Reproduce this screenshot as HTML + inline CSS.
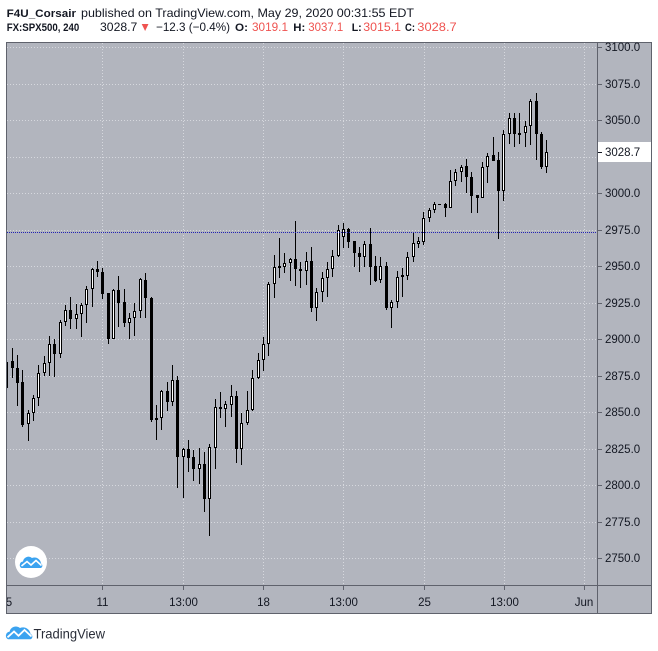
<!DOCTYPE html>
<html><head><meta charset="utf-8"><style>
html,body{margin:0;padding:0;background:#fff;}
svg{display:block;}
text{font-family:"Liberation Sans",sans-serif;}
</style></head><body>
<svg width="658" height="651" viewBox="0 0 658 651" xmlns="http://www.w3.org/2000/svg">
<defs><clipPath id="pc"><rect x="7" y="43" width="590" height="542"/></clipPath>
<clipPath id="xc"><rect x="7" y="586" width="590" height="27"/></clipPath></defs>
<rect width="658" height="651" fill="#fff"/>
<rect x="6" y="42" width="646" height="572" fill="#b2b5be"/>
<g stroke="#d6d8de" stroke-width="1" stroke-dasharray="1 2" fill="none">
<path d="M7 47.5H597M7 84.5H597M7 120.5H597M7 157.5H597M7 193.5H597M7 230.5H597M7 266.5H597M7 303.5H597M7 339.5H597M7 376.5H597M7 412.5H597M7 449.5H597M7 485.5H597M7 522.5H597M7 558.5H597"/>
<path d="M102.5 43V585M183.5 43V585M263.5 43V585M343.5 43V585M424.5 43V585M504.5 43V585M584.5 43V585"/>
</g>
<g clip-path="url(#pc)" fill="none">
<path stroke="#000" stroke-width="1" d="M6.5 362V388M12.5 348V378M17.5 355V406M22.5 370V427M28.5 410V441M33.5 395V421M38.5 365V406M44.5 356V376M49.5 336V376M54.5 339V377M60.5 320V358M65.5 305V326M70.5 297V329M76.5 304V329M81.5 303V337M86.5 286V323M92.5 268V307M97.5 261V277M102.5 268V299M108.5 293V344M113.5 289V339M118.5 276V327M124.5 289V327M129.5 313V339M134.5 303V336M140.5 278V318M145.5 273V318M151.5 297V422M156.5 405V440M161.5 390V430M167.5 382V411M172.5 365V406M177.5 376V488M183.5 448V498M188.5 440V472M193.5 450V481M199.5 448V484M204.5 452V512M209.5 444V536M215.5 399V469M220.5 392V418M225.5 401V427M231.5 385V417M236.5 391V463M241.5 413V465M247.5 391V425M252.5 370V411M258.5 353V379M263.5 337V371M268.5 282V356M274.5 255V298M279.5 238V278M284.5 253V273M290.5 258V281M295.5 221V286M300.5 262V288M306.5 252V285M311.5 247V312M316.5 288V321M322.5 272V302M327.5 262V297M332.5 250V277M338.5 225V257M343.5 223V248M348.5 228V248M354.5 241V267M359.5 247V272M364.5 241V267M370.5 228V285M375.5 256V282M380.5 257V283M386.5 262V310M391.5 300V328M397.5 271V308M402.5 268V297M407.5 252V280M413.5 233V262M418.5 237V248M423.5 212V245M429.5 208V222M434.5 202V213M439.5 204V205M445.5 203V217M450.5 170V208M455.5 169V186M461.5 165V182M466.5 159V193M471.5 172V213M477.5 195V213M482.5 162V198M487.5 153V183M493.5 137V160M498.5 152V239M503.5 130V201M509.5 113V144M514.5 113V147M519.5 113V144M525.5 121V147M530.5 99V145M536.5 93V160M541.5 132V169M546.5 140V173"/>
<path stroke="#000" stroke-width="3" d="M6.5 362V388M12.5 361V368M17.5 368V383M22.5 382V425M28.5 413V424M33.5 398V413M38.5 373V398M44.5 363V373M49.5 344V363M54.5 344V354M60.5 322V354M65.5 310V322M70.5 310V319M76.5 314V319M81.5 305V314M86.5 289V305M92.5 269V289M97.5 269V272M102.5 272V294M108.5 293V339M113.5 290V339M118.5 290V303M124.5 302V323M129.5 318V323M134.5 311V318M140.5 279V311M145.5 280V298M151.5 298V420M156.5 418V420M161.5 391V418M167.5 391V402M172.5 380V402M177.5 380V457M183.5 449V457M188.5 449V458M193.5 457V469M199.5 464V469M204.5 464V499M209.5 447V499M215.5 407V448M220.5 407V409M225.5 404V409M231.5 396V405M236.5 396V449M241.5 423V449M247.5 410V423M252.5 378V410M258.5 360V378M263.5 344V360M268.5 284V344M274.5 267V284M279.5 266V268M284.5 263V267M290.5 259V263M295.5 259V269M300.5 269V271M306.5 261V271M311.5 261V308M316.5 292V308M322.5 278V292M327.5 269V278M332.5 256V269M338.5 230V256M343.5 229V237M348.5 229V242M354.5 241V253M359.5 253V257M364.5 244V257M370.5 244V267M375.5 266V281M380.5 266V280M386.5 266V308M391.5 302V308M397.5 277V302M402.5 275V277M407.5 257V276M413.5 243V257M418.5 241V244M423.5 218V242M429.5 210V218M434.5 204V210M439.5 204V205M445.5 204V208M450.5 181V208M455.5 172V181M461.5 167V172M466.5 166V177M471.5 177V196M477.5 195V198M482.5 167V198M487.5 156V167M493.5 155V161M498.5 160V191M503.5 134V191M509.5 118V134M514.5 118V134M519.5 133V135M525.5 126V133M530.5 101V126M536.5 101V134M541.5 134V167M546.5 152V167"/>
<path stroke="#fff" stroke-width="1" d="M28.5 414V423M33.5 399V412M38.5 374V397M44.5 364V372M49.5 345V362M60.5 323V353M65.5 311V321M76.5 315V318M81.5 306V313M86.5 290V304M92.5 270V288M113.5 291V338M129.5 319V322M134.5 312V317M140.5 280V310M161.5 392V417M172.5 381V401M183.5 450V456M199.5 465V468M209.5 448V498M215.5 408V447M225.5 405V408M231.5 397V404M241.5 424V448M247.5 411V422M252.5 379V409M258.5 361V377M263.5 345V359M268.5 285V343M274.5 268V283M284.5 264V266M290.5 260V262M306.5 262V270M316.5 293V307M322.5 279V291M327.5 270V277M332.5 257V268M338.5 231V255M343.5 230V236M364.5 245V256M380.5 267V279M391.5 303V307M397.5 278V301M407.5 258V275M413.5 244V256M418.5 242V243M423.5 219V241M429.5 211V217M434.5 205V209M450.5 182V207M455.5 173V180M461.5 168V171M482.5 168V197M487.5 157V166M503.5 135V190M509.5 119V133M525.5 127V132M530.5 102V125M546.5 153V166"/>
<path d="M7 232.5H597" stroke="#2323b4" stroke-width="1" stroke-dasharray="1 1"/>
</g>
<path d="M6.5 42.5H651.5V613.5H6.5ZM597.5 42.5V613.5M6.5 585.5H651.5" stroke="#5f626c" stroke-width="1" fill="none"/>
<path d="M598 47.5H602M598 84.5H602M598 120.5H602M598 193.5H602M598 230.5H602M598 266.5H602M598 303.5H602M598 339.5H602M598 376.5H602M598 412.5H602M598 449.5H602M598 485.5H602M598 522.5H602M598 558.5H602" stroke="#5f626c" stroke-width="1"/>
<path d="M102.5 586V590M183.5 586V590M263.5 586V590M343.5 586V590M424.5 586V590M504.5 586V590M584.5 586V590" stroke="#5f626c" stroke-width="1"/>
<g font-size="11.5" fill="#131722">
<text x="605" y="51">3100.0</text>
<text x="605" y="88">3075.0</text>
<text x="605" y="124">3050.0</text>
<text x="605" y="197">3000.0</text>
<text x="605" y="234">2975.0</text>
<text x="605" y="270">2950.0</text>
<text x="605" y="307">2925.0</text>
<text x="605" y="343">2900.0</text>
<text x="605" y="380">2875.0</text>
<text x="605" y="416">2850.0</text>
<text x="605" y="453">2825.0</text>
<text x="605" y="489">2800.0</text>
<text x="605" y="526">2775.0</text>
<text x="605" y="562">2750.0</text>
</g>
<rect x="598" y="142" width="53" height="20" fill="#fff"/>
<path d="M598 152.5H602" stroke="#131722" stroke-width="1"/>
<text x="605" y="156" font-size="11.5" fill="#131722">3028.7</text>
<g font-size="11.5" fill="#131722" text-anchor="middle">
<text x="9" y="606" clip-path="url(#xc)">5</text>
<text x="102.5" y="606">11</text>
<text x="183.5" y="606">13:00</text>
<text x="263.5" y="606">18</text>
<text x="343.5" y="606">13:00</text>
<text x="424.5" y="606">25</text>
<text x="504.5" y="606">13:00</text>
<text x="584" y="606">Jun</text>
</g>
<circle cx="31" cy="562" r="16" fill="#fff"/>
<g transform="translate(20,555)">
<path d="M1.5,13 A3.5,3.5 0 0 1 3,6.5 A5.5,5.5 0 0 1 12,3 A6.5,6.5 0 0 1 21,8.5 A2.5,2.5 0 0 1 21,13 Z" fill="#3ba3f0"/>
<polyline points="1.5,11 7,6.5 11,10 16,5.5 21.5,10.5" fill="none" stroke="#fff" stroke-width="1.6"/>
</g>
<g font-size="12" fill="#131722">
<text x="6.7" y="17" font-weight="bold" font-size="11" textLength="69.3" lengthAdjust="spacingAndGlyphs">F4U_Corsair</text>
<text x="81" y="17" textLength="333" lengthAdjust="spacingAndGlyphs">published on TradingView.com, May 29, 2020 00:31:55 EDT</text>
<text x="6.7" y="31" font-weight="bold" font-size="11" textLength="72.6" lengthAdjust="spacingAndGlyphs">FX:SPX500, 240</text>
<text x="100" y="31" textLength="37.3" lengthAdjust="spacingAndGlyphs">3028.7</text>
<text x="156" y="31" textLength="74" lengthAdjust="spacingAndGlyphs">−12.3 (−0.4%)</text>
<text x="235" y="31" font-weight="bold" font-size="11" textLength="13" lengthAdjust="spacingAndGlyphs">O:</text>
<text x="252" y="31" fill="#ef5350" textLength="36" lengthAdjust="spacingAndGlyphs">3019.1</text>
<text x="293.3" y="31" font-weight="bold" font-size="11" textLength="12" lengthAdjust="spacingAndGlyphs">H:</text>
<text x="308.3" y="31" fill="#ef5350" textLength="35" lengthAdjust="spacingAndGlyphs">3037.1</text>
<text x="351.7" y="31" font-weight="bold" font-size="11" textLength="10" lengthAdjust="spacingAndGlyphs">L:</text>
<text x="363.3" y="31" fill="#ef5350" textLength="37.7" lengthAdjust="spacingAndGlyphs">3015.1</text>
<text x="405" y="31" font-weight="bold" font-size="11" textLength="10" lengthAdjust="spacingAndGlyphs">C:</text>
<text x="417.3" y="31" fill="#ef5350" textLength="39.4" lengthAdjust="spacingAndGlyphs">3028.7</text>
</g>
<polygon points="141.7,24 148.5,24 145.1,31" fill="#ef5350"/>
<g transform="translate(6,625)">
<path d="M2,14.3 A4,4 0 0 1 3.5,6.8 A6.5,6.5 0 0 1 14,3 A7.5,7.5 0 0 1 24.5,9 A2.8,2.8 0 0 1 24.5,14.3 Z" fill="#3ba3f0"/>
<polyline points="1.5,12.3 8,6.5 12.5,10.8 18.5,5 25.5,11.5" fill="none" stroke="#fff" stroke-width="1.8"/>
</g>
<text x="33.5" y="638.3" font-size="14" fill="#2a2e39" textLength="71.5" lengthAdjust="spacingAndGlyphs">TradingView</text>
</svg>
</body></html>
